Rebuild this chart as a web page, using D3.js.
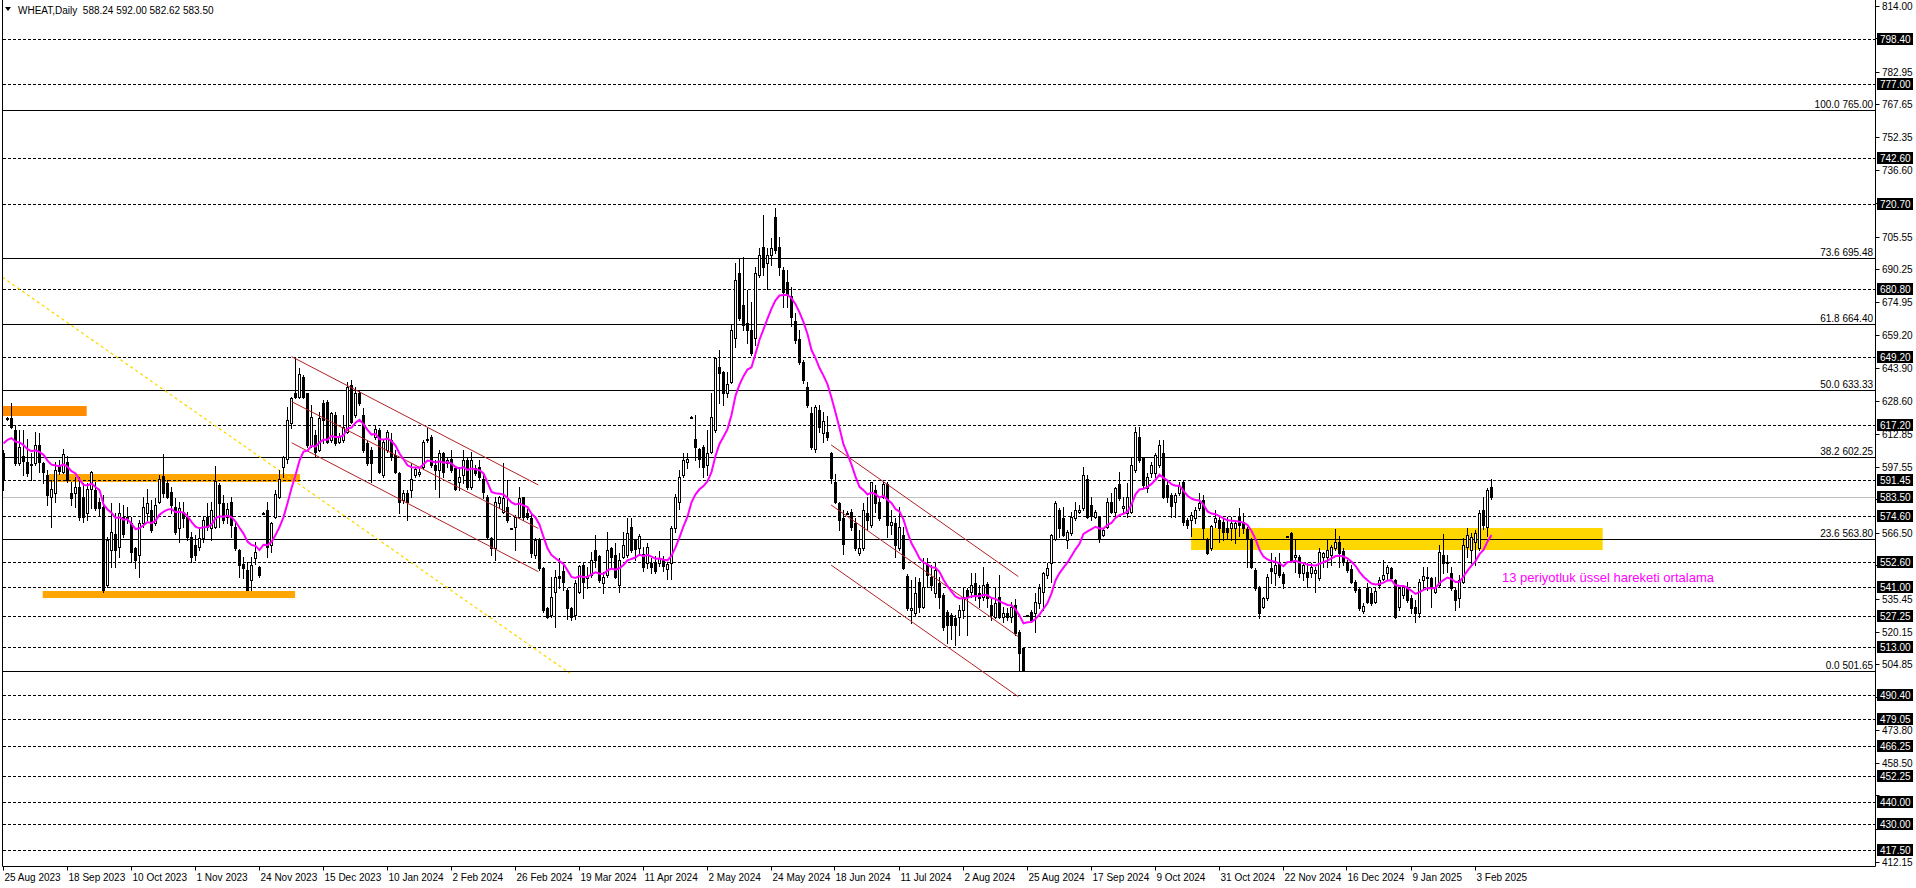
<!DOCTYPE html>
<html><head><meta charset="utf-8">
<script src="https://cdn.jsdelivr.net/npm/d3@7"></script>
<style>
html,body{margin:0;padding:0;background:#fff;overflow:hidden}
svg{display:block}
text{font-family:"Liberation Sans",Arial,sans-serif;font-size:10px}
</style></head><body>
<svg id="c" width="1916" height="888"></svg>
<script>
// ---------------- DATA ----------------
const opens = [
604.0,620.0,620.4,614.9,599.3,602.7,600.1,598.4,599.3,607.9,
599.3,593.8,583.6,585.5,598.5,595.4,600.1,585.2,585.2,588.3,
583.6,575.8,587.5,586.8,581.3,578.9,542.2,558.6,566.4,560.2,
574.3,573.5,571.1,559.4,556.3,571.1,575.8,577.4,571.1,581.3,
593.3,589.9,586.0,578.9,568.8,576.6,574.3,564.9,561.0,560.2,
564.1,574.3,568.8,569.6,589.1,580.5,574.3,581.3,569.6,558.6,
552.3,549.2,544.5,554.7,550.8,576.0,577.4,561.0,574.3,583.6,
597.4,601.6,618.4,632.2,630.6,640.0,632.2,607.9,612.6,605.6,
627.5,628.2,610.2,622.0,609.5,610.2,614.2,636.1,622.0,632.2,
622.0,608.7,605.6,611.8,614.9,593.8,605.6,610.2,603.2,594.6,
582.1,585.2,586.8,593.8,594.3,597.7,610.2,611.8,598.5,596.2,
604.0,599.3,601.6,597.0,590.7,593.8,600.9,588.3,597.0,597.7,
592.2,583.6,564.1,559.4,580.5,576.7,579.0,568.6,569.6,574.3,
583.4,575.9,573.5,556.3,563.4,550.1,531.3,528.2,539.1,546.5,
548.9,539.9,531.3,528.2,539.1,551.6,545.4,546.9,558.7,555.9,
543.0,547.0,559.4,556.3,542.2,555.5,556.3,569.6,563.3,559.4,
557.0,552.4,552.4,553.1,552.4,554.0,549.6,552.4,568.8,581.3,
593.8,600.1,621.0,611.0,606.3,607.1,598.5,604.8,614.9,644.7,
642.3,632.2,637.6,658.0,688.5,673.6,665.0,661.9,658.0,687.7,
701.0,693.2,697.1,715.1,701.0,690.0,684.6,678.0,666.0,657.5,
647.0,635.0,623.1,605.9,624.3,613.7,614.2,604.0,590.7,580.5,
573.5,576.0,576.6,571.1,557.4,559.4,576.1,570.3,586.8,581.3,
583.6,589.6,570.3,571.1,559.4,565.6,546.4,530.5,528.9,543.7,
532.0,552.3,546.1,538.3,543.0,537.5,529.7,528.1,526.6,527.3,
530.5,539.8,539.1,543.0,538.3,536.7,542.6,532.8,527.3,536.7,
527.3,529.2,527.3,532.8,520.3,512.5,527.8,529.7,528.9,533.9,
539.1,546.9,552.4,563.6,577.4,573.5,563.4,566.5,573.5,576.7,
578.2,591.9,579.8,574.0,574.0,565.7,569.6,581.4,576.7,589.7,
578.3,575.9,576.7,596.2,611.9,601.7,587.6,594.7,595.0,598.6,
604.1,589.2,584.5,581.4,585.3,590.8,572.8,572.8,573.5,578.2,
582.2,563.4,559.5,572.0,572.8,572.0,568.9,568.9,568.9,574.3,
572.0,568.4,563.7,549.3,541.2,532.1,536.0,550.1,547.7,552.4,
547.4,564.9,566.8,555.6,555.6,547.7,548.5,547.7,547.7,545.4,
555.6,555.6,556.4,559.5,562.6,558.4,553.2,549.6,543.8,540.2,
530.2,540.7,538.6,534.4,542.3,544.9,547.7,550.1,544.6,532.1,
537.5,541.0,536.0,532.1,528.9,544.6,546.2,545.4,539.1,542.2,
556.3,552.4,547.7,539.9,536.0,543.8,560.2,558.6,562.6,559.4,
577.4,569.6,588.24];
const highs = [
605.6,621.2,627.5,616.8,614.9,614.9,611.0,604.0,614.2,613.4,
600.1,596.2,591.5,600.1,600.9,606.3,602.7,590.7,593.0,593.0,
589.9,589.9,595.8,590.7,582.9,584.7,564.9,580.5,575.8,580.5,
579.7,578.9,574.3,560.2,572.7,583.6,587.5,582.1,582.9,593.8,
603.7,591.5,588.3,582.9,581.3,581.3,576.6,567.2,565.6,569.6,
574.3,580.5,581.3,598.0,589.9,584.4,580.5,583.6,571.1,558.9,
555.5,553.1,555.5,562.5,551.1,576.4,581.3,571.9,586.8,596.2,
602.7,625.6,630.6,648.6,643.9,640.8,632.5,626.7,614.9,623.5,
629.0,629.0,623.5,623.5,613.4,622.0,637.6,638.4,635.3,633.7,
625.1,610.2,607.1,617.3,615.7,611.0,614.9,613.4,605.6,595.4,
586.8,586.8,599.3,597.7,596.9,610.2,615.7,612.6,600.9,605.6,
604.8,602.4,605.6,597.7,597.7,605.6,602.4,604.8,598.5,600.9,
594.6,584.4,564.9,583.6,584.0,599.4,591.5,569.2,575.1,588.4,
583.7,577.7,575.9,564.1,564.1,550.8,532.1,546.1,549.3,554.8,
552.4,540.7,532.1,544.6,551.6,552.4,550.8,557.9,565.7,556.3,
548.5,567.3,560.2,561.8,557.1,567.3,573.5,573.5,564.0,566.4,
560.0,562.0,555.0,556.0,558.0,556.0,553.0,570.0,585.0,596.0,
604.0,604.0,621.5,622.0,606.5,607.9,615.0,632.2,649.4,652.5,
642.5,642.3,664.2,693.2,695.5,696.3,680.7,675.2,691.6,700.2,
715.9,700.2,704.9,719.0,705.7,691.6,690.0,682.0,670.0,662.0,
647.8,637.6,625.9,626.7,626.7,623.5,621.5,604.8,594.3,581.3,
577.4,577.0,577.7,573.5,568.0,580.5,583.6,590.7,589.1,583.6,
590.7,590.7,577.4,573.5,579.0,569.6,547.6,544.5,546.1,545.3,
554.7,554.7,551.6,552.4,546.1,538.3,530.5,528.9,528.1,532.8,
540.6,540.6,547.7,547.7,542.2,550.8,543.7,536.7,540.6,546.9,
532.0,531.2,534.4,535.5,521.1,513.2,528.3,530.5,538.3,542.9,
548.5,552.4,566.1,581.8,578.2,579.0,568.1,576.7,581.4,580.0,
597.8,593.9,583.7,577.5,574.6,568.9,583.0,585.3,588.4,595.5,
583.7,590.0,601.7,616.6,616.6,602.5,594.7,600.2,604.1,610.3,
610.3,591.5,585.3,585.3,590.8,591.5,573.5,576.7,579.0,585.3,
584.5,564.2,570.4,577.5,574.3,573.5,574.3,574.3,572.8,578.2,
575.9,569.6,564.2,550.1,541.8,536.8,547.4,557.1,555.6,557.1,
548.5,565.3,567.3,563.4,556.4,552.4,552.4,552.7,550.9,559.5,
557.9,563.4,561.0,568.4,565.0,559.5,554.0,551.6,544.6,540.7,
533.6,543.0,540.7,540.7,546.2,554.0,551.6,550.9,544.9,541.5,
542.3,543.8,537.5,535.2,545.0,550.8,550.8,546.2,546.2,561.0,
566.2,556.3,550.8,540.7,546.9,564.1,568.8,566.5,568.1,577.4,
583.7,587.6,592.00];
const lows = [
586.8,619.6,615.7,598.5,598.5,593.8,593.3,591.5,598.5,595.4,
589.9,579.7,569.6,581.3,594.3,594.6,590.7,579.7,578.9,572.7,
571.9,572.7,578.2,577.4,575.0,539.0,541.4,550.8,550.8,555.5,
564.9,571.1,553.1,550.0,546.1,569.6,572.7,567.2,570.3,580.5,
583.6,582.9,575.8,566.4,562.5,569.6,563.3,553.1,553.9,558.6,
562.5,568.0,563.3,568.8,569.6,571.1,571.1,564.9,558.6,546.1,
545.3,539.8,539.8,552.3,546.1,575.8,555.5,557.8,573.5,582.9,
593.0,599.3,615.7,629.8,629.8,629.8,607.1,607.1,602.4,605.2,
608.7,608.7,609.5,607.9,608.7,609.5,613.4,618.1,621.2,626.7,
604.8,598.5,590.7,611.0,594.6,593.0,604.8,600.9,594.6,575.8,
580.5,572.7,583.6,593.0,593.3,596.9,609.5,597.7,587.5,583.6,
593.0,597.7,595.4,586.8,586.8,589.9,587.5,587.5,593.8,591.5,
582.9,564.1,556.3,554.0,578.5,575.9,572.0,568.4,558.7,573.5,
572.7,573.0,555.5,554.7,549.3,529.7,526.6,527.4,522.7,540.7,
539.9,526.1,525.8,526.1,538.3,536.0,540.7,546.1,550.8,543.8,
538.3,546.1,550.8,545.4,539.1,554.8,555.5,557.9,554.0,556.3,
549.0,550.0,548.0,548.0,551.0,549.0,545.0,545.0,567.0,578.0,
593.0,597.0,620.9,600.9,597.7,593.0,593.8,604.0,614.1,627.5,
626.7,630.6,637.0,654.1,666.6,661.9,655.6,650.2,654.9,687.0,
687.7,681.4,692.4,697.9,687.7,672.8,672.8,664.0,656.0,646.2,
637.2,625.9,606.3,604.8,614.1,609.5,610.2,589.9,580.5,568.0,
557.0,575.5,568.0,558.6,556.3,558.6,568.0,569.6,576.6,572.7,
582.9,564.9,566.4,555.5,558.6,549.6,530.4,524.2,528.1,529.7,
531.2,541.4,539.8,536.7,531.2,521.0,514.8,517.1,514.0,518.7,
526.6,518.7,536.7,535.1,532.0,535.1,532.0,525.8,526.6,526.6,
525.0,525.8,525.0,518.7,502.5,501.65,527.5,525.0,520.3,531.2,
530.5,545.3,543.7,563.3,564.9,565.0,559.5,565.7,572.8,575.9,
577.5,573.5,572.8,573.5,562.6,565.0,568.9,575.9,573.5,582.2,
575.9,574.3,575.9,595.5,600.2,588.4,586.1,593.1,593.1,597.8,
582.9,581.4,574.3,574.3,584.5,570.4,568.9,565.0,571.2,577.5,
564.2,556.8,558.7,569.6,562.6,563.4,564.2,563.4,561.8,565.0,
566.5,550.9,550.1,539.9,526.6,531.3,535.2,543.0,542.3,546.2,
540.7,564.7,553.2,548.5,546.2,544.6,541.5,546.2,539.1,544.6,
550.9,550.9,551.6,558.7,550.9,551.6,548.5,543.0,539.1,530.5,
528.9,533.6,532.9,533.6,540.7,544.6,544.6,544.6,526.6,530.5,
536.0,534.4,528.9,525.0,527.0,540.7,539.9,532.1,538.3,541.5,
547.7,548.5,539.9,530.5,532.1,543.0,555.5,552.4,551.6,558.7,
568.7,565.0,582.62];
const closes = [
591.5,620.4,616.2,599.3,607.1,600.5,594.6,599.0,607.9,600.1,
595.4,584.4,587.1,596.2,595.9,603.7,591.5,582.9,588.3,574.3,
574.3,587.5,595.4,578.2,578.2,539.8,563.3,567.2,558.6,575.8,
566.4,574.3,557.8,553.9,571.1,578.9,580.5,568.0,579.7,591.8,
585.2,583.6,579.7,567.2,578.2,573.5,564.9,555.5,556.3,564.1,
572.7,569.6,577.4,591.2,580.5,572.7,577.7,570.3,559.4,551.6,
550.0,540.1,551.6,557.8,546.9,576.1,560.2,571.1,584.9,592.2,
602.1,619.6,629.8,630.6,641.5,630.6,607.9,621.2,604.8,620.4,
619.6,609.5,622.8,608.7,612.1,616.5,635.3,618.9,632.2,627.5,
605.6,599.3,599.3,615.3,595.4,609.5,614.2,602.4,595.4,581.3,
585.2,581.3,592.2,596.9,595.4,609.5,611.0,598.5,596.2,604.0,
595.4,600.9,596.2,587.5,593.0,600.9,588.3,600.9,594.9,593.0,
586.0,564.9,559.4,581.3,583.6,582.9,572.8,568.8,574.3,582.9,
574.3,574.3,557.1,563.4,550.1,530.5,527.4,536.8,546.1,545.4,
543.8,531.3,527.4,543.0,551.2,543.8,546.5,554.0,554.0,544.6,
546.1,558.7,555.5,546.1,554.0,561.0,566.5,558.7,559.0,565.0,
550.8,560.2,550.8,548.9,554.7,551.0,552.0,568.8,583.6,593.0,
600.9,601.6,621.2,607.1,601.6,597.7,604.4,621.2,648.6,641.9,
632.2,636.8,661.9,685.4,667.4,664.2,661.9,651.0,688.5,697.1,
691.6,697.1,700.2,699.4,691.6,679.9,678.3,668.0,657.2,647.0,
638.4,626.7,607.1,625.6,616.5,619.3,611.8,592.3,581.3,572.7,
561.7,576.1,569.6,559.4,559.4,577.4,572.7,590.7,580.5,573.5,
589.6,570.3,571.9,561.0,569.6,550.0,531.2,531.2,538.3,532.0,
541.4,546.9,542.2,549.2,536.7,522.6,523.4,523.4,523.4,530.5,
536.7,536.7,542.2,537.5,535.9,542.2,535.9,528.1,533.6,527.3,
529.2,527.3,532.0,519.5,510.1,502.2,528.0,525.8,534.4,540.6,
547.7,550.0,565.6,580.5,568.8,565.7,567.3,574.3,577.5,577.5,
593.9,574.3,574.6,576.5,564.2,568.1,581.4,576.7,587.6,582.9,
579.4,583.4,598.6,614.2,601.0,589.2,593.1,598.6,603.3,608.0,
583.7,583.7,579.3,584.5,588.8,572.0,570.4,575.1,577.5,580.6,
568.9,557.1,570.0,573.5,568.9,567.3,567.3,571.2,571.2,570.4,
568.9,563.7,550.9,540.7,528.9,536.0,546.2,549.0,551.6,547.0,
543.4,565.0,554.0,556.4,547.7,551.6,546.2,550.9,549.3,557.9,
557.1,558.7,560.3,562.6,557.1,553.2,549.3,543.8,539.9,531.3,
532.4,534.4,533.6,539.6,544.6,546.9,550.5,545.4,527.4,540.7,
541.2,535.4,531.3,529.3,543.8,546.5,545.4,540.7,540.7,557.9,
552.4,553.2,540.7,535.2,544.6,561.0,565.7,564.9,566.5,576.2,
570.3,586.8,583.50];

const dateLabels = ["25 Aug 2023","18 Sep 2023","10 Oct 2023","1 Nov 2023","24 Nov 2023","15 Dec 2023",
  "10 Jan 2024","2 Feb 2024","26 Feb 2024","19 Mar 2024","11 Apr 2024","2 May 2024","24 May 2024",
  "18 Jun 2024","11 Jul 2024","2 Aug 2024","25 Aug 2024","17 Sep 2024","9 Oct 2024","31 Oct 2024",
  "22 Nov 2024","16 Dec 2024","9 Jan 2025","3 Feb 2025"];
const barsPerDateLabel = 16;

const scaleTicks = [814.00,798.70,782.95,767.65,752.35,736.60,721.30,705.55,690.25,674.95,659.20,643.90,
  628.60,612.85,597.55,582.25,566.50,551.20,535.45,520.15,504.85,489.55,473.80,458.50,443.20,427.45,412.15];
const levelPrices = [798.40,777.00,742.60,720.70,680.80,649.20,617.20,591.45,574.60,552.60,541.00,527.25,
  513.00,490.40,479.05,466.25,452.25,440.00,430.00,417.50];
const bidPrice = 583.50;
const fiboPrices = [765.00,695.48,664.40,633.33,602.25,563.80,501.65];
const fiboRatios = ["100.0","73.6","61.8","50.0","38.2","23.6","0.0"];

const emaPeriod = 13;
const emaFirstValue = 608.7;

// zones: bar from, bar to, price top, price bottom
const zoneFrom  = [-0.2, 11.4, 9.8, 296.9];
const zoneTo    = [20.8, 74.1, 72.9, 399.8];
const zoneTop   = [626.3, 594.5, 539.5, 569.1];
const zoneBot   = [621.7, 590.6, 536.2, 558.8];
// channel lines: bar1, price1, bar2, price2
const chanBar1 = [72.05,72.05,72.05,206.9,206.9,206.9];
const chanP1   = [649.4,628.3,609.0,608.0,579.8,551.6];
const chanBar2 = [133.7,133.7,133.7,253.7,253.7,253.7];
const chanP2   = [589.2,568.8,548.5,546.2,518.0,489.8];
// dotted trend line
const trendBars = [-0.9, 141.6];
const trendPrices = [687.5, 500.8];

const header = "WHEAT,Daily  588.24 592.00 582.62 583.50";
const emaNote = "13 periyotluk üssel hareketi ortalama";

// ---------------- DRAW ----------------
const svg = d3.select("#c");
const axisX = 1875.5, bottomY = 866.5, leftX = 2.5;
const n = closes.length;
const x = d3.scaleLinear().domain([0, n - 1]).range([3.5, 3.5 + 4 * (n - 1)]);
const y = d3.scaleLinear().domain([798.4, 417.5]).range([39.3, 850.7]);
const snap = v => Math.round(v) + 0.5;

const zoneColors = ["#FF8C00", "#FFA500", "#FFA500", "#FFD700"];
const gZones = svg.append("g");
zoneFrom.forEach((b, k) => {
  const x0 = Math.max(leftX, x(b)), x1 = x(zoneTo[k]);
  const y0 = Math.round(y(zoneTop[k])), y1 = Math.round(y(zoneBot[k]));
  gZones.append("rect").attr("x", x0).attr("y", y0).attr("width", x1 - x0).attr("height", y1 - y0)
    .attr("fill", zoneColors[k]);
});

// level lines
const gLev = svg.append("g");
levelPrices.forEach(p => {
  const yy = snap(y(p) - 0.5);
  gLev.append("line").attr("x1", 3).attr("x2", axisX).attr("y1", yy).attr("y2", yy)
    .attr("stroke", "#000").attr("stroke-width", 1).attr("stroke-dasharray", "3,2");
});
{
  const yy = snap(y(bidPrice) - 0.5);
  gLev.append("line").attr("x1", 3).attr("x2", axisX).attr("y1", yy).attr("y2", yy)
    .attr("stroke", "#C0C0C0").attr("stroke-width", 1);
}
fiboPrices.forEach((p, k) => {
  const yy = snap(y(p) - 0.5);
  gLev.append("line").attr("x1", 3).attr("x2", axisX).attr("y1", yy).attr("y2", yy)
    .attr("stroke", "#000").attr("stroke-width", 1);
  gLev.append("text").attr("x", 1873).attr("y", yy - 3).attr("text-anchor", "end")
    .attr("fill", "#000").text(fiboRatios[k] + " " + p.toFixed(2));
});

// dotted trend line (clipped at the left frame)
{
  const xa = x(trendBars[0]), ya = y(trendPrices[0]), xb = x(trendBars[1]), yb = y(trendPrices[1]);
  const xs = Math.max(leftX, xa), ys = ya + (xs - xa) * (yb - ya) / (xb - xa);
  svg.append("line").attr("x1", xs).attr("y1", ys).attr("x2", xb).attr("y2", yb)
    .attr("stroke", "#FFD700").attr("stroke-width", 1.3).attr("stroke-dasharray", "3,3");
}

// candles
const gC = svg.append("g");
for (let i = 0; i < n; i++) {
  const o = opens[i], c = closes[i];
  const h = Math.max(highs[i], o, c), l = Math.min(lows[i], o, c);
  const cx = x(i);
  gC.append("line").attr("x1", cx).attr("x2", cx).attr("y1", Math.round(y(h))).attr("y2", Math.round(y(l)) + 1)
    .attr("stroke", "#000").attr("stroke-width", 1);
  const yo = Math.round(y(o)), yc = Math.round(y(c));
  if (c >= o) {
    const top = yc, bot = Math.max(yo, yc + 1);
    gC.append("rect").attr("x", cx - 1).attr("y", top + 0.5).attr("width", 2).attr("height", Math.max(bot - top, 0.01))
      .attr("fill", "#fff").attr("stroke", "#000").attr("stroke-width", 1);
  } else {
    const top = yo, bot = Math.max(yc, yo + 1);
    gC.append("rect").attr("x", cx - 1.5).attr("y", top).attr("width", 3).attr("height", bot - top + 1)
      .attr("fill", "#000");
  }
}

// channel lines
const gCh = svg.append("g");
chanBar1.forEach((b, k) => {
  gCh.append("line").attr("x1", x(b)).attr("y1", y(chanP1[k])).attr("x2", x(chanBar2[k])).attr("y2", y(chanP2[k]))
    .attr("stroke", "#B22222").attr("stroke-width", 1);
});

// EMA (13-period exponential moving average of the closes)
const k = 2 / (emaPeriod + 1);
const ema = [];
closes.forEach((c, i) => { ema.push(i === 0 ? emaFirstValue : ema[i - 1] + k * (c - ema[i - 1])); });
svg.append("path").datum(ema)
  .attr("d", d3.line().x((d, i) => x(i)).y(d => y(d)))
  .attr("fill", "none").attr("stroke", "#FF00FF").attr("stroke-width", 2);

svg.append("text").attr("x", 1502).attr("y", 582).attr("fill", "#FF00FF")
  .style("font-size", "13.5px").attr("textLength", 212).attr("lengthAdjust", "spacingAndGlyphs").text(emaNote);

// frame
svg.append("line").attr("x1", leftX).attr("x2", leftX).attr("y1", 0).attr("y2", bottomY).attr("stroke", "#000");
svg.append("line").attr("x1", axisX).attr("x2", axisX).attr("y1", 0).attr("y2", bottomY).attr("stroke", "#000");
svg.append("line").attr("x1", leftX).attr("x2", axisX).attr("y1", bottomY).attr("y2", bottomY).attr("stroke", "#000");

// right scale
const gAx = svg.append("g");
const boxPrices = [...levelPrices, bidPrice];
const boxYs = boxPrices.map(p => snap(y(p) - 0.5));
scaleTicks.forEach(p => {
  const yy = snap(y(p) - 0.5);
  gAx.append("line").attr("x1", axisX).attr("x2", axisX + 4).attr("y1", yy).attr("y2", yy).attr("stroke", "#000");
  const covered = boxYs.some(by => Math.abs(by - yy) < 8);
  if (!covered) gAx.append("text").attr("x", 1882).attr("y", yy + 3.5).attr("fill", "#000").text(p.toFixed(2));
});
boxPrices.forEach((p, j) => {
  const yy = boxYs[j];
  gAx.append("rect").attr("x", 1877).attr("y", yy - 6.5).attr("width", 36).attr("height", 12).attr("fill", "#000");
  gAx.append("text").attr("x", 1880).attr("y", yy + 3.5).attr("fill", "#fff").text(p.toFixed(2));
});

// time axis
const gT = svg.append("g");
dateLabels.forEach((t, j) => {
  const xx = Math.round(x(j * barsPerDateLabel)) - 0.5;
  gT.append("line").attr("x1", xx).attr("x2", xx).attr("y1", bottomY).attr("y2", bottomY + 4).attr("stroke", "#000");
  gT.append("text").attr("x", xx + 1).attr("y", 881).attr("fill", "#000").text(t);
});

// header
svg.append("path").attr("d", "M5,7 L11,7 L8,11 Z").attr("fill", "#000");
svg.append("text").attr("x", 18).attr("y", 14).attr("fill", "#000").style("white-space", "pre").text(header);
</script>
</body></html>
